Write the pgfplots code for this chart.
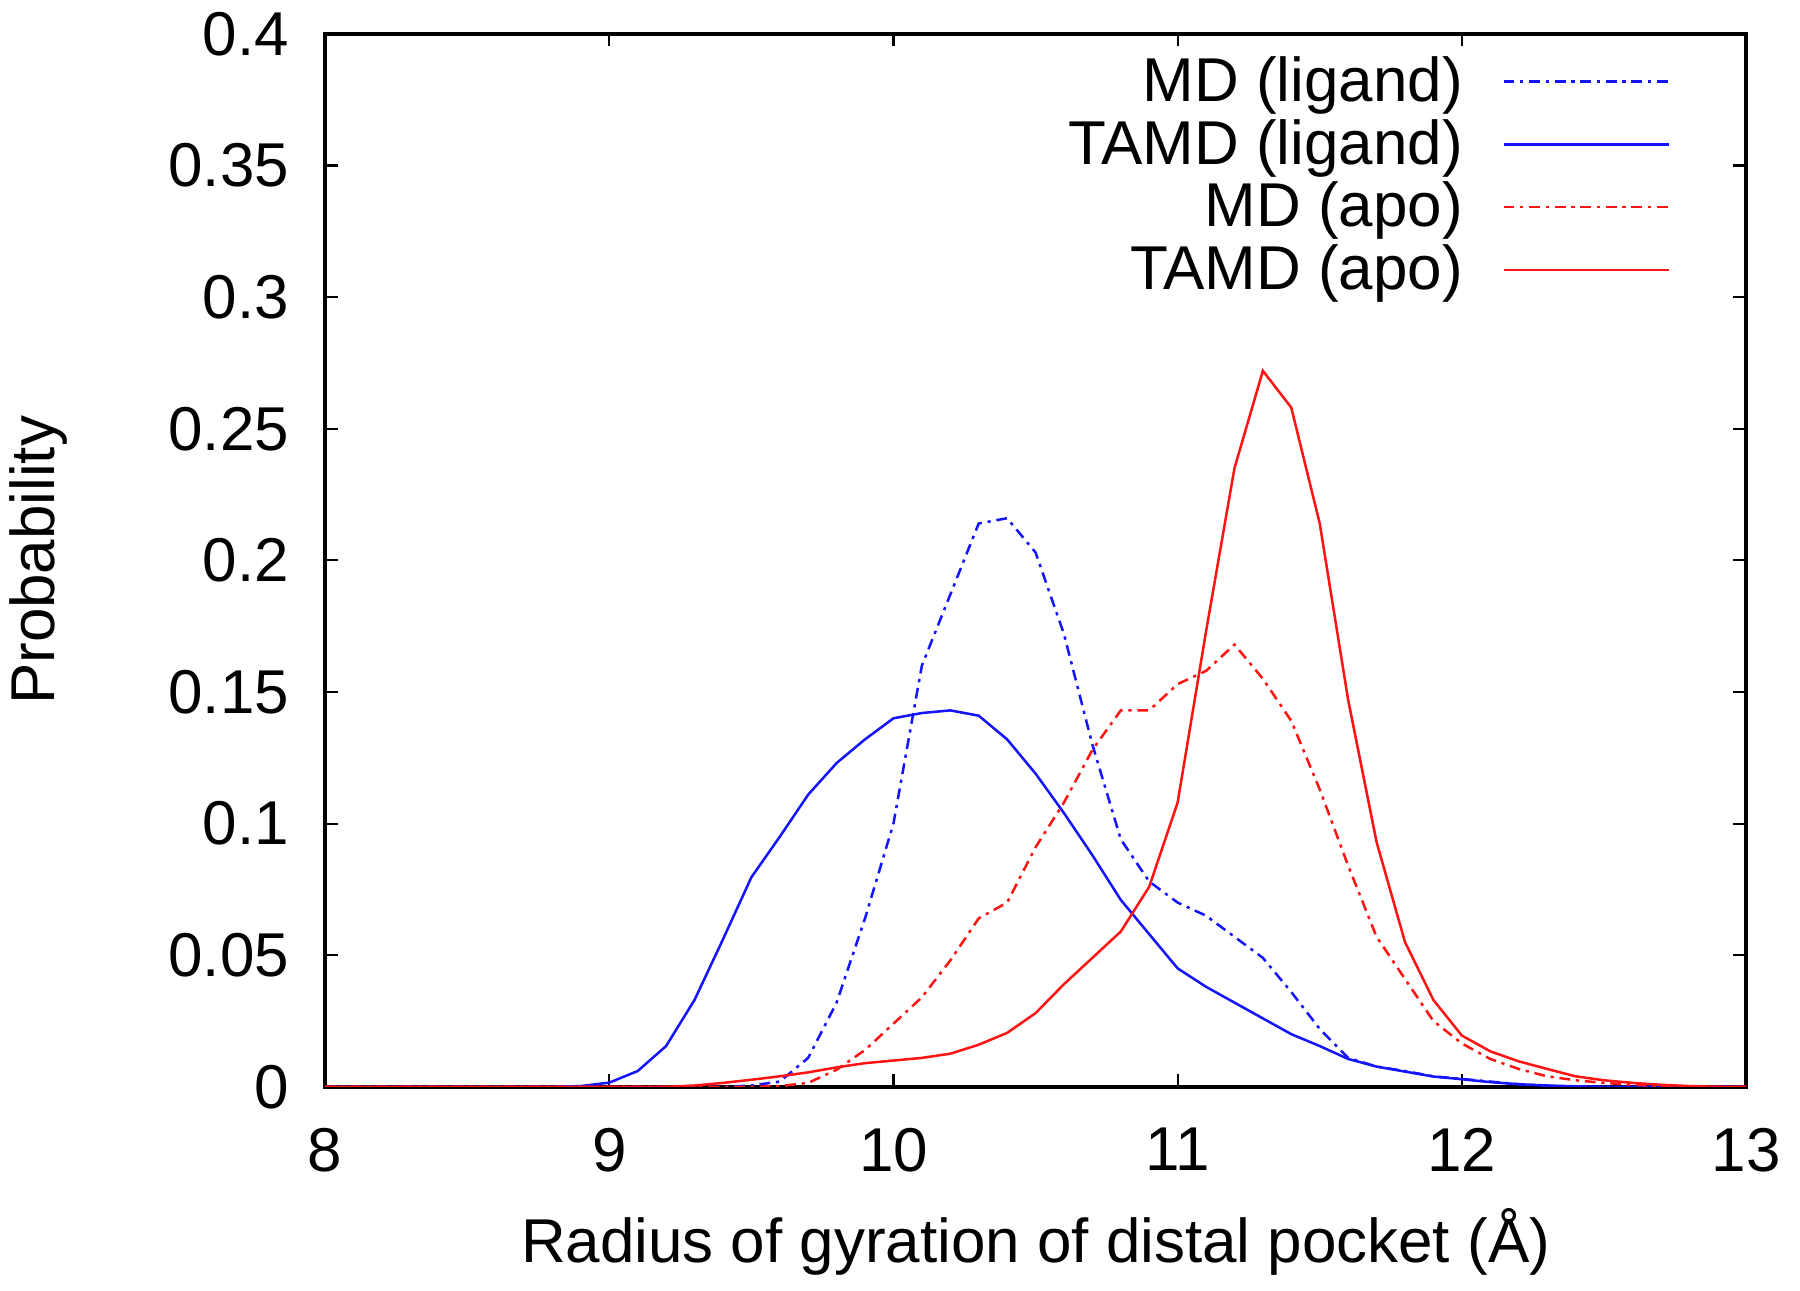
\documentclass[border=0pt]{standalone}
\usepackage{fontspec}
\setmainfont{Liberation Sans}
\usepackage{pgfplots}
\pgfplotsset{compat=1.18}
\usepackage{pgfplotstable}

\pgfplotstableread{
x y
8.0 0
8.8 0
8.9 0.0003
9.0 0.0016
9.1 0.006
9.2 0.0155
9.3 0.033
9.4 0.056
9.5 0.0796
9.6 0.095
9.7 0.111
9.8 0.123
9.9 0.132
10.0 0.140
10.1 0.142
10.2 0.143
10.3 0.141
10.4 0.132
10.5 0.119
10.6 0.104
10.7 0.088
10.8 0.071
10.9 0.058
11.0 0.045
11.1 0.038
11.2 0.032
11.3 0.026
11.4 0.020
11.5 0.0155
11.6 0.0106
11.7 0.0077
11.8 0.0058
11.9 0.0039
12.0 0.0029
12.1 0.0018
12.2 0.001
12.3 0.0005
12.4 0.0002
12.5 0
13.0 0
}\tamdlig

\pgfplotstableread{
x y
8.0 0
9.4 0
9.5 0.0005
9.6 0.002
9.7 0.011
9.8 0.032
9.9 0.064
10.0 0.100
10.1 0.160
10.2 0.187
10.3 0.214
10.4 0.216
10.5 0.203
10.6 0.172
10.7 0.130
10.8 0.094
10.9 0.078
11.0 0.070
11.1 0.065
11.2 0.057
11.3 0.049
11.4 0.036
11.5 0.022
11.6 0.011
11.7 0.0077
11.8 0.006
11.9 0.004
12.0 0.003
12.1 0.002
12.2 0.001
12.3 0.0005
12.4 0
13.0 0
}\mdlig

\pgfplotstableread{
x y
8.0 0
9.5 0
9.6 0.0003
9.7 0.0015
9.8 0.0065
9.9 0.014
10.0 0.024
10.1 0.034
10.2 0.048
10.3 0.064
10.4 0.070
10.5 0.091
10.6 0.108
10.7 0.128
10.8 0.143
10.9 0.143
11.0 0.153
11.1 0.158
11.2 0.168
11.3 0.155
11.4 0.139
11.5 0.113
11.6 0.084
11.7 0.057
11.8 0.041
11.9 0.025
12.0 0.0165
12.1 0.0106
12.2 0.0068
12.3 0.004
12.4 0.0025
12.5 0.0015
12.6 0.0008
12.7 0.0003
12.8 0
13.0 0
}\mdapo

\pgfplotstableread{
x y
8.0 0
9.2 0
9.3 0.0005
9.4 0.0015
9.5 0.0027
9.6 0.004
9.7 0.0055
9.8 0.0074
9.9 0.009
10.0 0.010
10.1 0.011
10.2 0.0126
10.3 0.016
10.4 0.0205
10.5 0.028
10.6 0.039
10.7 0.049
10.8 0.059
10.9 0.076
11.0 0.108
11.1 0.173
11.2 0.235
11.3 0.272
11.4 0.258
11.5 0.214
11.6 0.147
11.7 0.093
11.8 0.055
11.9 0.033
12.0 0.0195
12.1 0.0135
12.2 0.0097
12.3 0.0068
12.4 0.004
12.5 0.0025
12.6 0.0015
12.7 0.0008
12.8 0.0003
12.9 0
13.0 0
}\tamdapo

\definecolor{gblue}{RGB}{20,20,255}
\definecolor{gred}{RGB}{255,20,20}

\begin{document}
\begin{tikzpicture}
\begin{axis}[
  scale only axis,
  width=394.7pt, height=292.5pt,
  xmin=8, xmax=13, ymin=0, ymax=0.4,
  xtick={8,9,10,11,12,13},
  xticklabels={8,9,10,11,12,13},
  ytick={0,0.05,0.1,0.15,0.2,0.25,0.3,0.35,0.4},
  yticklabels={0,0.05,0.1,0.15,0.2,0.25,0.3,0.35,0.4},
  tick align=inside,
  major tick length=3.5pt,
  tick style={black, line width=0.6pt},
  axis line style={black, line width=1pt},
  font=\fontsize{17.2}{20}\selectfont,
  xticklabel style={yshift=-8pt},
  yticklabel style={xshift=-6.5pt},
  xlabel={Radius of gyration of distal pocket (Å)},
  ylabel={Probability},
  xlabel style={at={(axis description cs:0.5,-0.147)}, anchor=center},
  ylabel style={at={(axis description cs:-0.202,0.5)}, anchor=center},
  legend style={draw=none, fill=none, at={(0.955,0.993)}, anchor=north east,
     row sep=-0.5pt, font=\fontsize{17.2}{20}\selectfont},
  legend cell align=right,
  legend plot pos=right,
  legend image code/.code={\path (0pt,0pt); \draw[#1] (9pt,0pt) -- (55pt,0pt);},
  every axis plot/.append style={line width=0.7pt},
]
\addplot[gblue, dash pattern=on 3pt off 1.6pt on 0.9pt off 1.6pt] table {\mdlig};
\addlegendentry{MD (ligand)}
\addplot[gblue] table {\tamdlig};
\addlegendentry{TAMD (ligand)}
\addplot[gred, dash pattern=on 3pt off 1.6pt on 0.9pt off 1.6pt] table {\mdapo};
\addlegendentry{MD (apo)}
\addplot[gred] table {\tamdapo};
\addlegendentry{TAMD (apo)}
\end{axis}
\pgfresetboundingbox
\path[use as bounding box] (-90.3pt,-56.7pt) rectangle (409.7pt,301.9pt);
\end{tikzpicture}
\end{document}
